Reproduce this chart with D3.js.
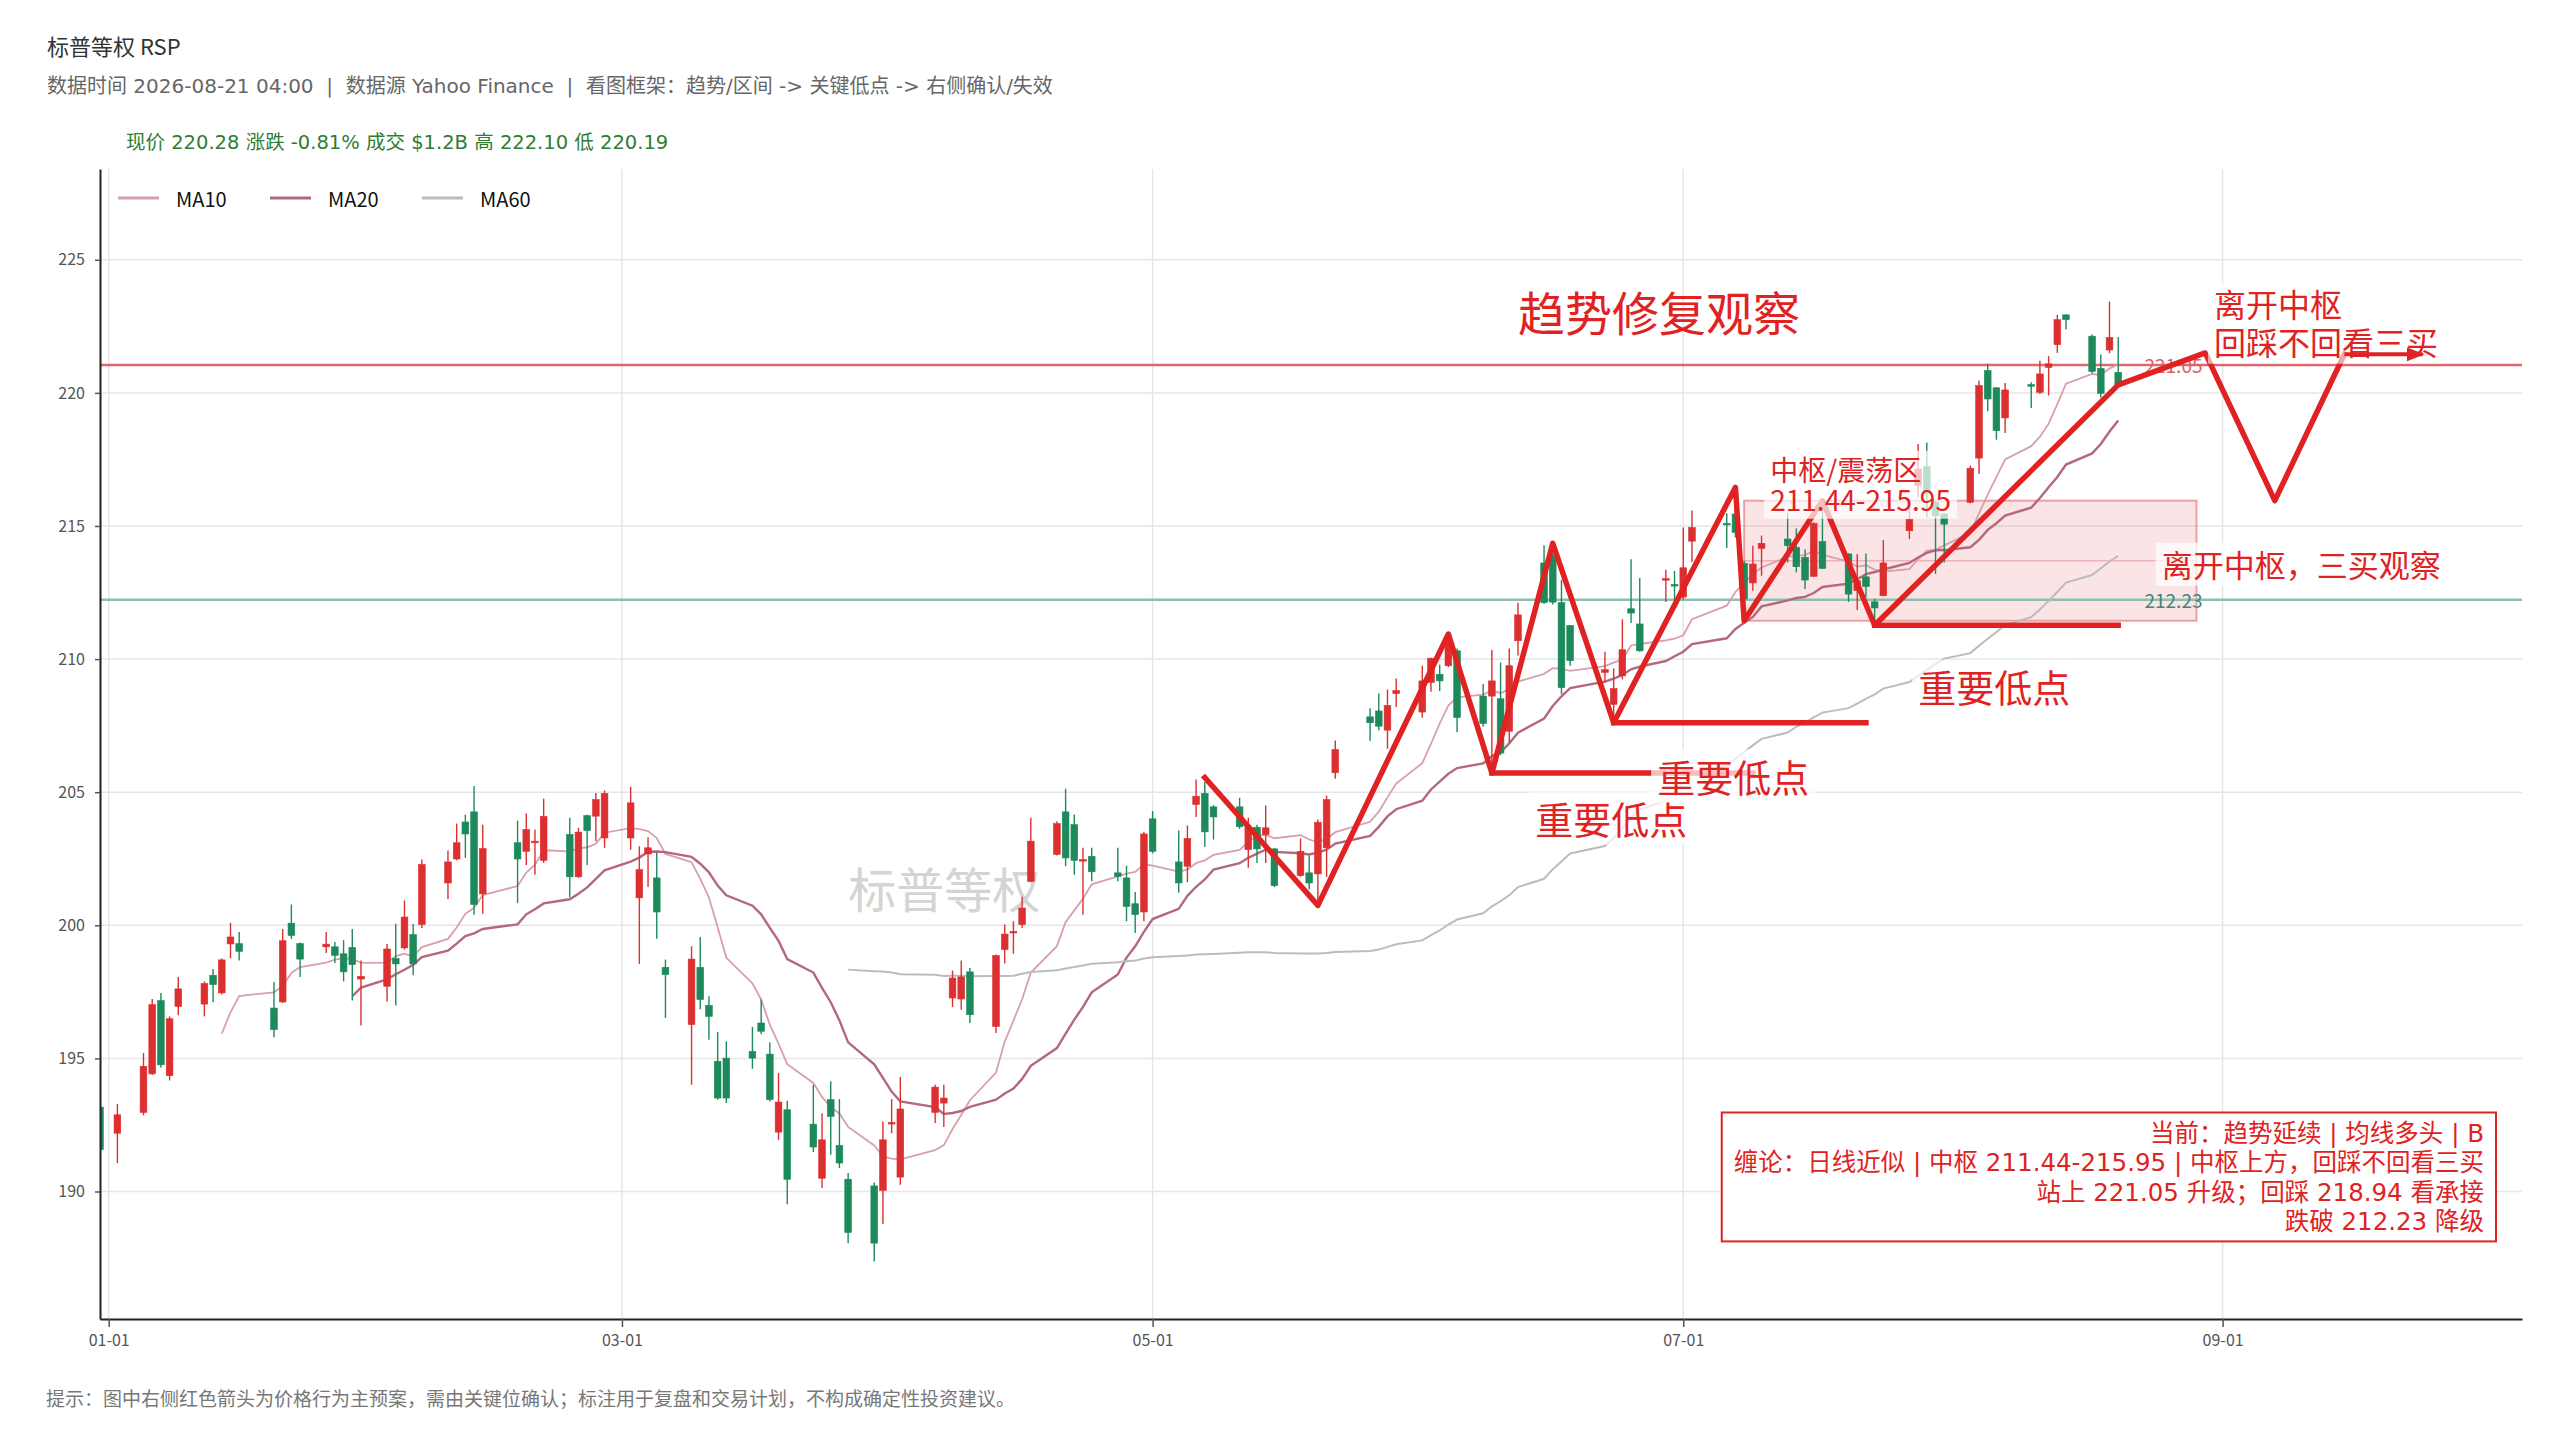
<!DOCTYPE html>
<html lang="zh">
<head>
<meta charset="utf-8">
<title>标普等权 RSP</title>
<script src="https://cdn.jsdelivr.net/npm/d3@7/dist/d3.min.js"></script>
<style>
  body { margin: 0; background: #ffffff; }
  text { font-family: "Noto Sans CJK SC", "Noto Sans", sans-serif; white-space: pre; }
  .wide { font-family: "DejaVu Sans", "Noto Sans CJK SC", sans-serif; }
</style>
</head>
<body>
<svg id="chart"></svg>
<script>
// Daily bars (red = close above open, green = close below open).
const dates = [
  "2025-12-31","2026-01-02","2026-01-05","2026-01-06","2026-01-07","2026-01-08","2026-01-09",
  "2026-01-12","2026-01-13","2026-01-14","2026-01-15","2026-01-16",
  "2026-01-20","2026-01-21","2026-01-22","2026-01-23",
  "2026-01-26","2026-01-27","2026-01-28","2026-01-29","2026-01-30",
  "2026-02-02","2026-02-03","2026-02-04","2026-02-05","2026-02-06",
  "2026-02-09","2026-02-10","2026-02-11","2026-02-12","2026-02-13",
  "2026-02-17","2026-02-18","2026-02-19","2026-02-20",
  "2026-02-23","2026-02-24","2026-02-25","2026-02-26","2026-02-27",
  "2026-03-02","2026-03-03","2026-03-04","2026-03-05","2026-03-06",
  "2026-03-09","2026-03-10","2026-03-11","2026-03-12","2026-03-13",
  "2026-03-16","2026-03-17","2026-03-18","2026-03-19","2026-03-20",
  "2026-03-23","2026-03-24","2026-03-25","2026-03-26","2026-03-27",
  "2026-03-30","2026-03-31","2026-04-01","2026-04-02",
  "2026-04-06","2026-04-07","2026-04-08","2026-04-09","2026-04-10",
  "2026-04-13","2026-04-14","2026-04-15","2026-04-16","2026-04-17",
  "2026-04-20","2026-04-21","2026-04-22","2026-04-23","2026-04-24",
  "2026-04-27","2026-04-28","2026-04-29","2026-04-30","2026-05-01",
  "2026-05-04","2026-05-05","2026-05-06","2026-05-07","2026-05-08",
  "2026-05-11","2026-05-12","2026-05-13","2026-05-14","2026-05-15",
  "2026-05-18","2026-05-19","2026-05-20","2026-05-21","2026-05-22",
  "2026-05-26","2026-05-27","2026-05-28","2026-05-29",
  "2026-06-01","2026-06-02","2026-06-03","2026-06-04","2026-06-05",
  "2026-06-08","2026-06-09","2026-06-10","2026-06-11","2026-06-12",
  "2026-06-15","2026-06-16","2026-06-17","2026-06-18",
  "2026-06-22","2026-06-23","2026-06-24","2026-06-25","2026-06-26",
  "2026-06-29","2026-06-30","2026-07-01","2026-07-02",
  "2026-07-06","2026-07-07","2026-07-08","2026-07-09","2026-07-10",
  "2026-07-13","2026-07-14","2026-07-15","2026-07-16","2026-07-17",
  "2026-07-20","2026-07-21","2026-07-22","2026-07-23","2026-07-24",
  "2026-07-27","2026-07-28","2026-07-29","2026-07-30","2026-07-31",
  "2026-08-03","2026-08-04","2026-08-05","2026-08-06","2026-08-07",
  "2026-08-10","2026-08-11","2026-08-12","2026-08-13","2026-08-14",
  "2026-08-17","2026-08-18","2026-08-19","2026-08-20"
];
const opens = [
  193.17,192.19,192.97,194.42,197.17,194.35,196.95,
  197.04,198.12,197.46,199.30,199.31,
  196.89,197.12,200.08,199.31,
  199.19,199.19,198.93,199.17,197.98,
  197.71,198.75,199.15,199.65,200.03,
  201.59,202.49,203.88,204.26,201.18,
  203.10,202.78,203.10,202.44,
  203.41,201.82,204.12,204.10,203.28,
  203.28,201.03,202.68,201.78,198.42,
  196.27,198.42,196.99,194.89,195.01,
  195.26,196.33,195.16,192.23,193.07,
  192.53,190.50,193.45,191.73,190.46,
  190.21,190.04,192.54,190.54,
  192.97,193.32,197.27,197.23,198.25,
  196.20,199.09,199.71,200.03,201.65,
  202.66,204.26,203.78,202.41,202.59,
  201.97,201.78,200.81,200.50,204.00,
  202.38,202.22,204.54,204.95,204.45,
  204.45,202.84,203.68,203.41,202.87,
  201.87,201.97,201.93,202.91,205.73,
  207.83,208.05,207.33,208.70,
  208.01,209.12,209.43,209.75,210.31,
  208.61,208.61,208.51,207.29,210.69,
  213.61,213.90,212.12,211.26,
  209.50,208.30,209.37,211.89,211.32,
  212.98,212.80,212.33,214.43,
  215.10,215.45,213.60,212.86,214.16,
  214.51,214.20,213.82,213.11,214.41,
  213.95,212.57,213.09,212.15,212.38,
  214.82,216.52,217.23,215.89,215.45,
  215.89,217.55,220.84,220.19,219.06,
  220.31,220.02,220.96,221.81,222.93,
  222.13,220.92,221.61,220.77
];
const highs = [
  193.40,193.28,195.20,197.23,197.46,196.58,198.06,
  197.89,198.36,198.75,200.09,199.75,
  197.87,199.86,200.78,199.35,
  199.75,199.37,199.44,199.86,198.68,
  199.30,200.06,200.93,200.05,202.47,
  202.81,203.82,204.16,205.23,203.78,
  203.93,204.20,203.60,204.76,
  204.04,203.66,204.15,204.97,205.06,
  205.20,202.97,203.31,202.72,198.71,
  199.21,199.56,197.33,195.99,195.64,
  196.18,197.21,195.61,194.45,193.41,
  194.01,192.94,194.14,193.47,190.69,
  190.34,192.63,193.47,194.30,
  194.01,194.01,198.30,198.68,198.40,
  198.90,200.03,200.15,201.07,204.04,
  203.91,205.13,204.16,202.91,202.91,
  202.91,202.24,201.25,203.51,204.29,
  203.56,203.75,205.48,205.38,204.51,
  204.79,204.04,203.78,204.50,202.91,
  203.26,202.62,203.97,204.87,206.94,
  208.15,208.71,208.86,209.27,
  209.75,210.06,209.79,210.94,210.40,
  209.06,210.34,209.87,210.40,212.12,
  214.28,214.35,212.98,211.28,
  210.28,209.65,211.49,213.75,213.05,
  213.36,213.31,214.94,215.58,
  215.48,216.45,213.70,214.26,214.64,
  215.48,214.91,214.13,215.14,215.95,
  213.97,213.95,213.97,212.26,214.47,
  215.73,218.08,218.14,215.95,215.47,
  217.27,220.46,221.09,220.21,220.37,
  220.40,221.21,221.38,222.93,222.95,
  222.19,221.44,223.43,222.10
];
const lows = [
  191.10,191.07,192.86,194.38,194.66,194.17,196.62,
  196.58,197.11,197.40,198.76,198.68,
  195.79,197.08,199.49,198.06,
  198.96,198.58,197.89,197.17,196.24,
  197.14,196.99,199.09,198.12,199.90,
  200.99,202.44,202.53,200.40,200.43,
  200.84,202.26,201.90,202.34,
  201.05,201.78,202.26,203.16,202.91,
  202.84,198.55,201.44,199.49,196.52,
  194.01,196.85,195.70,193.45,193.32,
  194.61,195.91,193.38,191.94,189.52,
  191.48,190.13,191.38,190.88,188.06,
  187.37,188.78,192.19,190.25,
  192.57,192.42,196.93,196.83,196.33,
  195.95,198.56,198.93,199.90,201.62,
  202.62,202.22,201.90,200.40,201.65,
  201.65,200.15,199.71,200.15,202.70,
  201.22,201.62,204.07,202.94,203.22,
  203.62,202.16,202.34,202.34,201.44,
  201.82,201.34,200.78,201.82,205.50,
  206.92,207.33,206.63,208.20,
  207.80,208.77,208.80,209.70,207.25,
  207.46,205.75,206.40,206.85,210.13,
  212.08,212.05,208.68,209.75,
  209.12,207.61,209.24,211.36,210.28,
  212.14,212.20,212.24,213.65,
  214.17,214.57,211.44,212.57,213.13,
  213.63,213.26,212.63,213.09,213.38,
  212.15,211.84,212.32,211.27,212.36,
  214.51,216.08,215.33,213.20,213.63,
  215.85,216.95,219.31,218.24,218.49,
  219.43,219.96,219.90,221.50,222.38,
  220.74,219.83,221.49,220.19
];
const closes = [
  191.57,192.88,194.70,197.02,194.76,196.49,197.61,
  197.81,197.77,198.70,199.56,199.02,
  196.08,199.42,199.62,198.73,
  199.29,198.87,198.25,198.52,198.08,
  199.11,198.55,200.31,198.55,202.28,
  202.38,203.10,203.43,200.78,202.88,
  202.49,203.60,203.16,204.09,
  201.82,203.50,203.56,204.72,204.95,
  204.60,202.09,202.91,200.50,198.15,
  198.73,197.21,196.58,193.51,193.51,
  195.01,196.02,193.45,193.36,190.46,
  191.67,191.94,192.82,191.07,188.46,
  188.06,191.94,192.59,193.10,
  193.92,193.51,198.02,198.06,196.64,
  198.86,199.67,199.77,200.65,203.16,
  203.82,202.53,202.44,202.47,202.01,
  201.84,200.71,200.40,203.43,202.78,
  201.59,203.26,204.85,203.51,204.07,
  203.70,203.70,202.87,203.66,201.49,
  202.78,201.59,203.87,204.72,206.60,
  207.61,207.48,208.26,208.82,
  209.18,210.03,209.18,210.69,207.80,
  207.58,209.18,206.47,209.75,211.66,
  212.12,212.14,208.93,209.94,
  209.60,208.89,210.35,211.73,210.31,
  213.02,212.75,213.43,214.94,
  215.04,214.76,212.26,213.57,214.35,
  214.26,213.47,212.97,215.10,213.41,
  212.44,212.94,212.73,211.92,213.61,
  215.24,217.14,216.23,215.39,215.07,
  217.17,220.27,219.77,218.58,220.11,
  220.25,220.71,221.09,222.75,222.75,
  220.81,219.98,222.08,220.28
];

// Ticks of the two axes.
const yTicks = [190, 195, 200, 205, 210, 215, 220, 225];
const xTicks = ["2026-01-01", "2026-03-01", "2026-05-01", "2026-07-01", "2026-09-01"];

// Moving averages shown in the legend.
const maNames = ["MA10", "MA20", "MA60"];
const maPeriods = [10, 20, 60];

// Key levels and the central zone.
const upgradeLevel = 221.05;
const downgradeLevel = 212.23;
const zoneLow = 211.44;
const zoneHigh = 215.95;
const zoneDates = ["2026-07-08", "2026-08-29"];

// Turning points of the hand drawn swing line.
const swingDates = ["2026-05-07", "2026-05-20", "2026-06-04", "2026-06-09", "2026-06-16", "2026-06-23",
  "2026-07-07", "2026-07-08", "2026-07-17", "2026-07-23", "2026-08-20"];
const swingValues = [205.55, 200.75, 210.94, 205.72, 214.35, 207.61, 216.45, 211.44, 215.95, 211.27, 220.30];
// Projected path after the last bar and the final arrow.
const planDates = ["2026-08-20", "2026-08-30", "2026-09-07", "2026-09-15"];
const planValues = [220.30, 221.50, 215.95, 221.45];
const arrowDates = ["2026-09-15", "2026-09-24"];
const arrowValue = 221.45;

// Important lows: where each line starts and stops, and its price.
const lowStartDates = ["2026-06-09", "2026-06-23", "2026-07-23"];
const lowEndDates = ["2026-07-09", "2026-07-22", "2026-08-20"];
const lowValues = [205.72, 207.61, 211.27];
const lowLabelDates = ["2026-06-14", "2026-06-28", "2026-07-28"];
const lowLabelValues = [204.06, 205.65, 209.02];

// Texts.
const titleText = "标普等权 RSP";
const subtitleText = "数据时间 2026-08-21 04:00  |  数据源 Yahoo Finance  |  看图框架：趋势/区间 -> 关键低点 -> 右侧确认/失效";
const quoteText = "现价 220.28 涨跌 -0.81% 成交 $1.2B 高 222.10 低 220.19";
const footerText = "提示：图中右侧红色箭头为价格行为主预案，需由关键位确认；标注用于复盘和交易计划，不构成确定性投资建议。";
const watermarkText = "标普等权";
const headlineText = "趋势修复观察";
const zoneText = ["中枢/震荡区", "211.44-215.95"];
const lowText = "重要低点";
const leaveText = ["离开中枢", "回踩不回看三买"];
const thirdBuyText = "离开中枢，三买观察";
const boxLines = [
  "当前：趋势延续 | 均线多头 | B",
  "缠论：日线近似 | 中枢 211.44-215.95 | 中枢上方，回踩不回看三买",
  "站上 221.05 升级；回踩 218.94 看承接",
  "跌破 212.23 降级"
];
// Anchors (date, price) of the free texts.
const headlineAnchor = ["2026-06-12", 223.12];
const zoneTextAnchor = ["2026-07-11", 217.15];
const watermarkAnchor = ["2026-03-27", 201.43];
const leaveAnchor = ["2026-08-31", 223.37];
const thirdBuyAnchor = ["2026-08-25", 213.60];

// Define the page and the plot area.
const width = 2560, height = 1440;
const plot = { left: 100, right: 2522, top: 169, bottom: 1319 };
const red = "#e02222";
const upColor = "#dc2f2f";
const downColor = "#1c8a5b";
const maColors = ["#d89fad", "#b4687d", "#bcbcbc"];
const maWidths = [1.8, 2.4, 2];
const font = "'Noto Sans CJK SC', 'Noto Sans', sans-serif";

const parse = d3.timeParse("%Y-%m-%d");
const days = dates.map(parse);

const svg = d3.select("#chart")
  .attr("width", width)
  .attr("height", height)
  .attr("viewBox", [0, 0, width, height]);
svg.append("rect").attr("width", width).attr("height", height).attr("fill", "#ffffff");

// Define the scales.
const x = d3.scaleTime()
  .domain([new Date(2025, 11, 31), new Date(2026, 9, 5, 10)])
  .range([plot.left, plot.right]);
const y = d3.scaleLinear()
  .domain([185.21, 228.41])
  .range([plot.bottom, plot.top]);

// Clip everything drawn with the data to the plot area.
svg.append("clipPath")
  .attr("id", "clip")
  .append("rect")
  .attr("x", plot.left)
  .attr("y", plot.top)
  .attr("width", plot.right - plot.left)
  .attr("height", plot.bottom - plot.top);

// Write the titles.
svg.append("text")
  .attr("x", 47).attr("y", 44.5)
  .attr("dominant-baseline", "central")
  .attr("font-size", 22).attr("fill", "#333")
  .text(titleText);
svg.append("text")
  .attr("class", "wide")
  .attr("x", 47).attr("y", 85.5)
  .attr("dominant-baseline", "central")
  .attr("font-size", 20).attr("fill", "#666")
  .text(subtitleText);
svg.append("text")
  .attr("class", "wide")
  .attr("x", 126).attr("y", 142.5)
  .attr("dominant-baseline", "central")
  .attr("font-size", 19.5).attr("fill", "#2e7d32")
  .text(quoteText);
svg.append("text")
  .attr("x", 46).attr("y", 1397)
  .attr("dominant-baseline", "central")
  .attr("font-size", 19).attr("fill", "#777")
  .text(footerText);

// Draw the grid.
const grid = svg.append("g");
grid.selectAll(".hgrid")
  .data(yTicks)
  .join("line")
  .attr("x1", plot.left).attr("x2", plot.right)
  .attr("y1", d => y(d)).attr("y2", d => y(d))
  .attr("stroke", "#e6e6e6").attr("stroke-width", 1.5);
grid.selectAll(".vgrid")
  .data(xTicks.map(parse))
  .join("line")
  .attr("x1", d => x(d)).attr("x2", d => x(d))
  .attr("y1", plot.top).attr("y2", plot.bottom)
  .attr("stroke", "#e6e6e6").attr("stroke-width", 1.5);

const body = svg.append("g").attr("clip-path", "url(#clip)");

// Watermark behind the bars.
body.append("text")
  .attr("x", x(parse(watermarkAnchor[0])))
  .attr("y", y(watermarkAnchor[1]))
  .attr("dominant-baseline", "central")
  .attr("font-size", 48).attr("fill", "#d4d4d4")
  .text(watermarkText);

// Central zone with its middle line.
const zx0 = x(parse(zoneDates[0])), zx1 = x(parse(zoneDates[1]));
body.append("rect")
  .attr("x", zx0).attr("y", y(zoneHigh))
  .attr("width", zx1 - zx0).attr("height", y(zoneLow) - y(zoneHigh))
  .attr("fill", "#e8767f").attr("fill-opacity", 0.2)
  .attr("stroke", "#e06a72").attr("stroke-opacity", 0.6).attr("stroke-width", 2);
body.append("line")
  .attr("x1", zx0).attr("x2", zx1)
  .attr("y1", y((zoneLow + zoneHigh) / 2)).attr("y2", y((zoneLow + zoneHigh) / 2))
  .attr("stroke", "#eeb4b9").attr("stroke-width", 1.5);

// Key levels across the whole plot.
body.append("line")
  .attr("x1", plot.left).attr("x2", plot.right)
  .attr("y1", y(upgradeLevel)).attr("y2", y(upgradeLevel))
  .attr("stroke", "#dd5560").attr("stroke-opacity", 0.9).attr("stroke-width", 2.5);
body.append("line")
  .attr("x1", plot.left).attr("x2", plot.right)
  .attr("y1", y(downgradeLevel)).attr("y2", y(downgradeLevel))
  .attr("stroke", "#8cbeb2").attr("stroke-width", 2.5);
body.append("text")
  .attr("x", zx1 + 6).attr("y", y(upgradeLevel))
  .attr("text-anchor", "end").attr("dominant-baseline", "central")
  .attr("font-size", 19).attr("fill", "#d9606a")
  .text(upgradeLevel.toFixed(2));
body.append("text")
  .attr("x", zx1 + 6).attr("y", y(downgradeLevel))
  .attr("text-anchor", "end").attr("dominant-baseline", "central")
  .attr("font-size", 19).attr("fill", "#3e8677")
  .text(downgradeLevel.toFixed(2));

// Moving averages computed from the closes.
function movingAverage(values, n) {
  return values.map((v, i) => i < n - 1 ? null : d3.mean(values.slice(i - n + 1, i + 1)));
}
const maLine = d3.line()
  .defined(d => d[1] !== null)
  .x(d => x(d[0]))
  .y(d => y(d[1]));
maPeriods.forEach((n, k) => {
  const ma = movingAverage(closes, n);
  body.append("path")
    .datum(days.map((d, i) => [d, ma[i]]))
    .attr("d", maLine)
    .attr("fill", "none")
    .attr("stroke", maColors[k])
    .attr("stroke-width", maWidths[k]);
});

// Draw the candles.
const bodyWidth = 6.7;
const candles = body.append("g")
  .selectAll("g")
  .data(d3.range(days.length))
  .join("g")
  .attr("fill", i => closes[i] >= opens[i] ? upColor : downColor)
  .attr("stroke", i => closes[i] >= opens[i] ? upColor : downColor);
candles.append("line")
  .attr("x1", i => x(days[i])).attr("x2", i => x(days[i]))
  .attr("y1", i => y(highs[i])).attr("y2", i => y(lows[i]))
  .attr("stroke-width", 1.4);
candles.append("rect")
  .attr("x", i => x(days[i]) - bodyWidth / 2)
  .attr("y", i => y(Math.max(opens[i], closes[i])))
  .attr("width", bodyWidth)
  .attr("height", i => Math.max(1.5, Math.abs(y(opens[i]) - y(closes[i]))))
  .attr("stroke-width", 0.6);

// Swing line and the projected path.
const pathLine = d3.line()
  .x(d => x(parse(d[0])))
  .y(d => y(d[1]));
const swingPoints = swingDates.map((d, i) => [d, swingValues[i]])
  .concat(planDates.slice(1).map((d, i) => [d, planValues[i + 1]]));
body.append("path")
  .datum(swingPoints)
  .attr("d", pathLine)
  .attr("fill", "none")
  .attr("stroke", red)
  .attr("stroke-width", 5.5)
  .attr("stroke-linejoin", "round")
  .attr("stroke-linecap", "square");

// Horizontal lines at the important lows.
lowValues.forEach((v, i) => {
  body.append("line")
    .attr("x1", x(parse(lowStartDates[i]))).attr("x2", x(parse(lowEndDates[i])))
    .attr("y1", y(v)).attr("y2", y(v))
    .attr("stroke", red).attr("stroke-width", 5.5)
    .attr("stroke-linecap", "square");
});

// Write a red note, with an optional white box behind it.
function note(parent, lines, px, py, size, gap, bgOpacity) {
  const g = parent.append("g");
  const bg = g.append("rect");
  const t = g.append("text")
    .attr("font-size", size)
    .attr("fill", red)
    .attr("dominant-baseline", "central");
  lines.forEach((s, i) => {
    t.append("tspan").attr("x", px).attr("y", py + i * gap).text(s);
  });
  if (bgOpacity > 0) {
    const b = t.node().getBBox();
    bg.attr("x", b.x - 6).attr("y", b.y + 2)
      .attr("width", b.width + 12).attr("height", b.height - 2)
      .attr("fill", "#ffffff").attr("fill-opacity", bgOpacity);
  } else {
    bg.remove();
  }
  return g;
}

note(body, [headlineText], x(parse(headlineAnchor[0])), y(headlineAnchor[1]), 47, 0, 0);
note(body, zoneText, x(parse(zoneTextAnchor[0])), y(zoneTextAnchor[1]), 28, 30, 0.7);
lowLabelDates.forEach((d, i) => {
  note(body, [lowText], x(parse(d)), y(lowLabelValues[i]), 38, 0, 0.7);
});
note(body, leaveText, x(parse(leaveAnchor[0])), y(leaveAnchor[1]), 32, 37.5, 0.6);
note(body, [thirdBuyText], x(parse(thirdBuyAnchor[0])), y(thirdBuyAnchor[1]), 31, 0, 0.75);

// Arrow after the projected path.
svg.append("defs").append("marker")
  .attr("id", "head")
  .attr("markerUnits", "userSpaceOnUse")
  .attr("markerWidth", 20).attr("markerHeight", 16)
  .attr("refX", 16).attr("refY", 8)
  .attr("orient", "auto")
  .append("path")
  .attr("d", "M0,1 L18,8 L0,15 Z")
  .attr("fill", red);
body.append("line")
  .attr("x1", x(parse(arrowDates[0]))).attr("x2", x(parse(arrowDates[1])))
  .attr("y1", y(arrowValue)).attr("y2", y(arrowValue))
  .attr("stroke", red).attr("stroke-width", 4)
  .attr("marker-end", "url(#head)");

// Summary box at the lower right.
const box = svg.append("g");
const boxRect = box.append("rect");
const boxText = box.append("text")
  .attr("class", "wide")
  .attr("font-size", 24.5)
  .attr("fill", red)
  .attr("text-anchor", "end")
  .attr("dominant-baseline", "central");
boxLines.forEach((s, i) => {
  boxText.append("tspan")
    .attr("x", plot.right - 38)
    .attr("y", plot.bottom - 186 + i * 29.3)
    .text(s);
});
const bb = boxText.node().getBBox();
boxRect
  .attr("x", bb.x - 12).attr("y", bb.y - 6)
  .attr("width", bb.width + 24).attr("height", bb.height + 12)
  .attr("fill", "#ffffff").attr("fill-opacity", 0.9)
  .attr("stroke", red).attr("stroke-width", 2);

// Legend of the moving averages.
const legend = svg.append("g");
maNames.forEach((name, k) => {
  const lx = plot.left + 18 + k * 152;
  legend.append("line")
    .attr("x1", lx).attr("x2", lx + 41)
    .attr("y1", plot.top + 29).attr("y2", plot.top + 29)
    .attr("stroke", maColors[k]).attr("stroke-width", 3);
  legend.append("text")
    .attr("x", lx + 58).attr("y", plot.top + 29)
    .attr("dominant-baseline", "central")
    .attr("font-size", 20).attr("fill", "#111")
    .text(name);
});

// Draw the axes.
const yAxis = svg.append("g")
  .attr("transform", `translate(${plot.left},0)`)
  .call(d3.axisLeft(y).tickValues(yTicks).tickSize(5).tickSizeOuter(0).tickPadding(10));
const xAxis = svg.append("g")
  .attr("transform", `translate(0,${plot.bottom})`)
  .call(d3.axisBottom(x).tickValues(xTicks.map(parse)).tickFormat(d3.timeFormat("%m-%d"))
    .tickSize(8).tickSizeOuter(0).tickPadding(8));
[yAxis, xAxis].forEach(a => {
  a.attr("font-family", font).attr("font-size", 16);
  a.select(".domain").attr("stroke", "#222").attr("stroke-width", 2);
  a.selectAll(".tick line").attr("stroke", "#555").attr("stroke-width", 1.5);
  a.selectAll(".tick text").attr("fill", "#555");
});
</script>
</body>
</html>
